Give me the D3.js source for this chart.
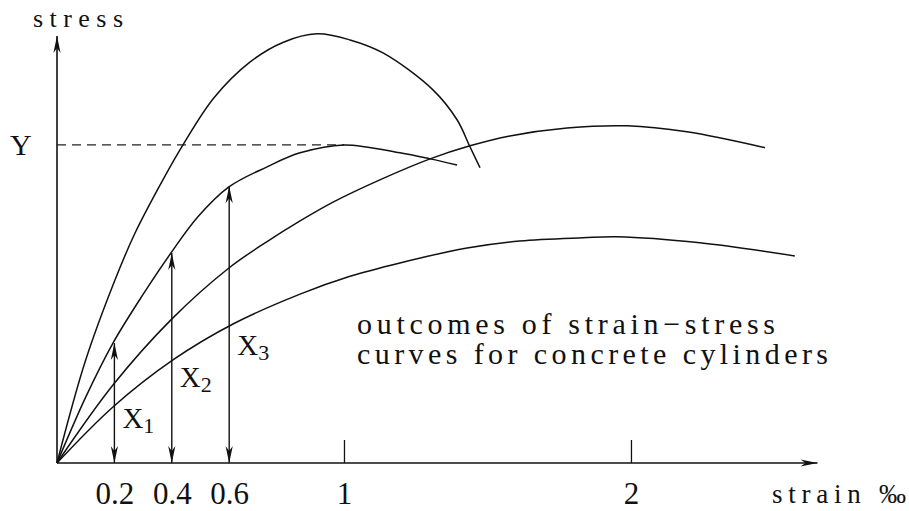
<!DOCTYPE html>
<html>
<head>
<meta charset="utf-8">
<script src="https://cdn.jsdelivr.net/npm/d3@7"></script>
<style>
  html, body { margin: 0; padding: 0; background: #fff; }
  svg { display: block; }
  text { font-family: "Liberation Serif", "DejaVu Serif", serif; fill: #111; }
</style>
</head>
<body>
<svg id="chart" width="909" height="511"></svg>
<script>
// ---- data (strain in ‰, stress normalised so that Y = 1) ----
const strainA = [0, 0.098, 0.202, 0.272, 0.369, 0.439, 0.547, 0.672, 0.787, 0.906, 1.021, 1.136, 1.310, 1.394, 1.439, 1.474];
const stressA = [0, 0.318, 0.575, 0.723, 0.890, 1.000, 1.148, 1.260, 1.322, 1.349, 1.330, 1.289, 1.173, 1.079, 0.994, 0.928];

const strainB = [0, 0.100, 0.195, 0.300, 0.397, 0.491, 0.599, 0.732, 0.847, 1.000, 1.195, 1.300, 1.394];
const stressB = [0, 0.207, 0.377, 0.530, 0.660, 0.774, 0.868, 0.931, 0.975, 1.000, 0.975, 0.956, 0.937];

const strainC = [0, 0.195, 0.397, 0.599, 0.732, 0.847, 0.962, 1.125, 1.300, 1.439, 1.578, 1.777, 1.986, 2.195, 2.467];
const stressC = [0, 0.245, 0.450, 0.613, 0.696, 0.761, 0.820, 0.890, 0.956, 0.997, 1.028, 1.053, 1.060, 1.041, 0.991];

const strainD = [0, 0.195, 0.404, 0.620, 0.847, 1.021, 1.195, 1.429, 1.613, 1.833, 1.951, 2.240, 2.571];
const stressD = [0, 0.176, 0.324, 0.440, 0.531, 0.587, 0.629, 0.676, 0.698, 0.708, 0.711, 0.692, 0.651];

const tickValues = [0.2, 0.4, 0.6, 1, 2];
const tickLabels = ["0.2", "0.4", "0.6", "1", "2"];
const majorTicks = [1, 2];

const arrowStrain = [0.2, 0.4, 0.6];
const arrowStress = [0.377, 0.660, 0.870];
const arrowNames = ["1", "2", "3"];
const arrowLabelStress = [0.11, 0.24, 0.34];

const yieldStress = 1;
const yieldStrain = 1;

const noteLines = ["outcomes of strain\u2212stress", "curves for concrete cylinders"];

// ---- layout ----
const svg = d3.select("#chart");
const x = d3.scaleLinear().domain([0, 2.65]).range([57, 817.5]);
const y = d3.scaleLinear().domain([0, 1.336]).range([463, 38]);

const defs = svg.append("defs");
defs.append("marker")
  .attr("id", "arr")
  .attr("viewBox", "-18 -5 20 10")
  .attr("refX", 0).attr("refY", 0)
  .attr("markerWidth", 20).attr("markerHeight", 10)
  .attr("markerUnits", "userSpaceOnUse")
  .attr("orient", "auto-start-reverse")
  .append("path")
  .attr("d", "M0,0 L-17,-3.6 L-12,0 L-17,3.6 Z")
  .attr("fill", "#111");

// axes lines with arrowheads
svg.append("line")
  .attr("x1", x(0)).attr("y1", y(0)).attr("x2", x(2.65)).attr("y2", y(0))
  .attr("stroke", "#111").attr("stroke-width", 1.6)
  .attr("marker-end", "url(#arr)");
svg.append("line")
  .attr("x1", x(0)).attr("y1", y(0)).attr("x2", x(0)).attr("y2", y(1.336) - 2)
  .attr("stroke", "#111").attr("stroke-width", 1.6)
  .attr("marker-end", "url(#arr)");

// tick labels
const axisG = svg.append("g")
  .attr("transform", `translate(0,${y(0)})`)
  .call(d3.axisBottom(x).tickValues(tickValues)
    .tickFormat((d, i) => tickLabels[i]).tickSize(0).tickPadding(19));
axisG.select(".domain").remove();
axisG.selectAll("text")
  .attr("font-family", "Liberation Serif, DejaVu Serif, serif")
  .attr("font-size", 31).attr("fill", "#111");

// tick marks at 1 and 2
const tickG = svg.append("g")
  .attr("transform", `translate(0,${y(0)})`)
  .call(d3.axisBottom(x).tickValues(majorTicks).tickFormat("").tickSize(-23));
tickG.select(".domain").remove();
tickG.selectAll("line").attr("stroke", "#111").attr("stroke-width", 1.3);

// dashed Y line
svg.append("line")
  .attr("x1", x(0)).attr("y1", y(yieldStress))
  .attr("x2", x(yieldStrain)).attr("y2", y(yieldStress))
  .attr("stroke", "#222").attr("stroke-width", 1.3)
  .attr("stroke-dasharray", "9,6");

// curves
const line = d3.line().x(d => x(d[0])).y(d => y(d[1])).curve(d3.curveCatmullRom.alpha(0.5));
const curves = [[strainA, stressA], [strainB, stressB], [strainC, stressC], [strainD, stressD]];
curves.forEach(([sx, sy]) => {
  svg.append("path")
    .datum(sx.map((v, i) => [v, sy[i]]))
    .attr("d", line)
    .attr("fill", "none")
    .attr("stroke", "#111")
    .attr("stroke-width", 1.5);
});

// double arrows X1..X3
arrowStrain.forEach((s, i) => {
  svg.append("line")
    .attr("x1", x(s)).attr("y1", y(0))
    .attr("x2", x(s)).attr("y2", y(arrowStress[i]))
    .attr("stroke", "#111").attr("stroke-width", 1.4)
    .attr("marker-start", "url(#arr)")
    .attr("marker-end", "url(#arr)");
  const t = svg.append("text")
    .attr("x", x(s) + 8)
    .attr("y", y(arrowLabelStress[i]))
    .attr("font-size", 29);
  t.append("tspan").text("X");
  t.append("tspan").attr("font-size", 22).attr("dy", 5).text(arrowNames[i]);
});

// axis titles
svg.append("text").attr("x", 33).attr("y", 27)
  .attr("font-size", 26).attr("textLength", 90).attr("lengthAdjust", "spacing")
  .text("stress");
svg.append("text").attr("x", 10).attr("y", y(yieldStress) + 10)
  .attr("font-size", 30).text("Y");
svg.append("text").attr("x", 772).attr("y", 503)
  .attr("font-size", 27).attr("textLength", 134).attr("lengthAdjust", "spacing")
  .text("strain \u2030");

// annotation
const noteWidths = [418, 471];
noteLines.forEach((l, i) => {
  svg.append("text").attr("x", 357).attr("y", 334 + i * 30)
    .attr("font-size", 30).attr("textLength", noteWidths[i]).attr("lengthAdjust", "spacing")
    .text(l);
});
</script>
</body>
</html>
